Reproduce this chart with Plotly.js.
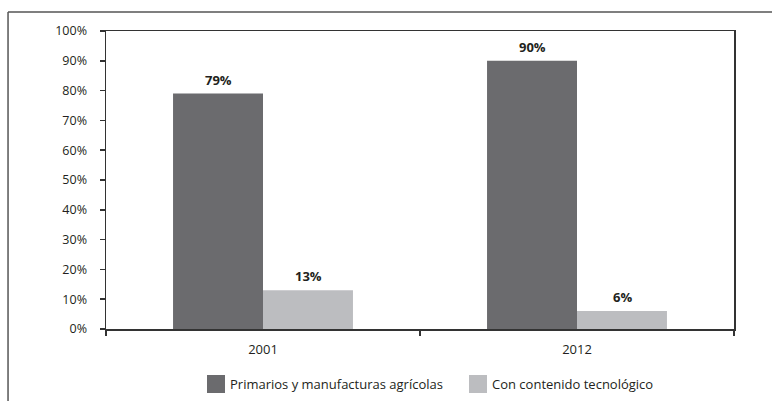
<!DOCTYPE html>
<html>
<head>
<meta charset="utf-8">
<script src="https://cdn.plot.ly/plotly-3.0.1.min.js"></script>
<style>
html,body{margin:0;padding:0;background:#fff;}
#chart{width:772px;height:401px;}
</style>
</head>
<body>
<div id="chart"></div>
<script>
const categories = ["2001", "2012"];
const seriesNames = ["Primarios y manufacturas agrícolas", "Con contenido tecnológico"];
const primarios = [79, 90];
const tecnologico = [13, 6];
const yTickVals = [0, 10, 20, 30, 40, 50, 60, 70, 80, 90, 100];
const yTickText = ["0%", "10%", "20%", "30%", "40%", "50%", "60%", "70%", "80%", "90%", "100%"];

const colors = ["#6b6b6e", "#bcbdc0"];
const textColor = "#231f20";
const font = "Open Sans, Noto Sans, sans-serif";

const seriesValues = [primarios, tecnologico];
const traces = seriesValues.map((vals, i) => ({
  type: "bar",
  name: seriesNames[i],
  x: categories,
  y: vals,
  marker: {color: colors[i], line: {width: 0}},
  showlegend: false,
  hoverinfo: "none"
}));

const annotations = [];
seriesValues.forEach((vals, i) => {
  vals.forEach((v, j) => {
    annotations.push({
      xref: "x", yref: "y",
      x: j, y: v,
      text: "<b>" + v + "%</b>",
      showarrow: false,
      xshift: i === 0 ? -45 : 45,
      yshift: 14,
      font: {family: font, size: 13, color: textColor}
    });
  });
});

// legend (manual)
const legendSwatchX = [[0.1608, 0.1895], [0.578, 0.6067]];
const legendTextX = [0.1943, 0.6115];
const shapes = [];
seriesNames.forEach((n, i) => {
  shapes.push({
    type: "rect", xref: "paper", yref: "paper",
    x0: legendSwatchX[i][0], x1: legendSwatchX[i][1],
    y0: -0.1544, y1: -0.2148,
    fillcolor: colors[i], line: {width: 0}
  });
  annotations.push({
    xref: "paper", yref: "paper",
    x: legendTextX[i], y: -0.1846,
    xanchor: "left", yanchor: "middle",
    text: n, showarrow: false,
    font: {family: font, size: 13, color: textColor}
  });
});

// outer frame (top and left)
shapes.push({type: "line", xref: "paper", yref: "paper", x0: -0.156, x1: 1.1, y0: 1.0638, y1: 1.0638, line: {color: "#555", width: 1.5}});
shapes.push({type: "line", xref: "paper", yref: "paper", x0: -0.156, x1: -0.156, y0: 1.0638, y1: -0.25, line: {color: "#555", width: 1.5}});

const layout = {
  width: 772, height: 401,
  margin: {l: 106, r: 38, t: 31, b: 72},
  paper_bgcolor: "#fff",
  plot_bgcolor: "#fff",
  barmode: "group",
  bargap: 0.427,
  bargroupgap: 0,
  showlegend: false,
  font: {family: font, size: 12.5, color: textColor},
  xaxis: {
    type: "category",
    range: [-0.5, 1.5],
    showline: true, linecolor: "#333", linewidth: 1.5, mirror: true,
    ticks: "outside", tickson: "boundaries", ticklen: 5, tickcolor: "#333", tickwidth: 1.5,
    showgrid: false, zeroline: false,
    tickfont: {family: font, size: 13, color: textColor},
    ticklabelstandoff: 8
  },
  yaxis: {
    range: [0, 100],
    tickvals: yTickVals, ticktext: yTickText,
    showline: true, linecolor: "#333", linewidth: 1.5, mirror: true,
    ticks: "outside", ticklen: 5, tickcolor: "#333", tickwidth: 1.5,
    showgrid: false, zeroline: false,
    tickfont: {family: font, size: 12.5, color: textColor},
    ticklabelstandoff: 10
  },
  annotations: annotations,
  shapes: shapes
};

Plotly.newPlot("chart", traces, layout, {displayModeBar: false, staticPlot: true});
</script>
</body>
</html>
